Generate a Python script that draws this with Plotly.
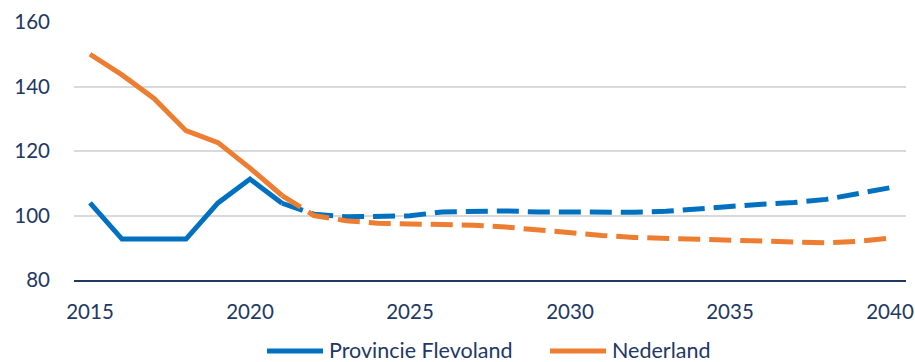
import plotly.graph_objects as go

years_hist = [2015, 2016, 2017, 2018, 2019, 2020, 2021]
flevoland_hist = [103.9, 92.7, 92.7, 92.7, 103.9, 111.3, 103.8]
nederland_hist = [150.0, 143.6, 136.3, 126.3, 122.6, 114.7, 106.2]

years_proj = [2021, 2022, 2023, 2024, 2025, 2026, 2027, 2028, 2029, 2030,
              2031, 2032, 2033, 2034, 2035, 2036, 2037, 2038, 2039, 2040]
flevoland_proj = [103.8, 100.4, 99.6, 99.6, 99.9, 101.1, 101.4, 101.4, 101.1, 101.0,
                  100.9, 101.0, 101.3, 101.9, 102.8, 103.5, 104.0, 105.0, 106.7, 108.6]
nederland_proj = [106.2, 100.0, 98.4, 97.6, 97.4, 97.2, 97.0, 96.4, 95.5, 94.7,
                  93.8, 93.2, 92.9, 92.6, 92.3, 92.1, 91.6, 91.5, 92.0, 93.0]

series_names = ["Provincie Flevoland", "Nederland"]
x_ticks = [2015, 2020, 2025, 2030, 2035, 2040]
y_ticks = [80, 100, 120, 140, 160]

BLUE = "#0070C0"
ORANGE = "#ED7D31"
NAVY = "#1F3864"
FONT = "Lato"

# plot area in pixels
L, R, T, B = 74, 9, 22, 82
W, H = 915, 362
PW, PH = W - L - R, H - T - B


def px_x(px):
    return (px - L) / PW


def px_y(py):
    return (H - B - py) / PH


fig = go.Figure()
fig.add_trace(go.Scatter(x=years_hist, y=flevoland_hist, mode="lines",
                         name=series_names[0], showlegend=False,
                         line=dict(color=BLUE, width=5)))
fig.add_trace(go.Scatter(x=years_hist, y=nederland_hist, mode="lines",
                         name=series_names[1], showlegend=False,
                         line=dict(color=ORANGE, width=5)))
fig.add_trace(go.Scatter(x=years_proj, y=flevoland_proj, mode="lines",
                         showlegend=False,
                         line=dict(color=BLUE, width=5, dash="22px,9px")))
fig.add_trace(go.Scatter(x=years_proj, y=nederland_proj, mode="lines",
                         showlegend=False,
                         line=dict(color=ORANGE, width=5, dash="22px,9px")))

# manual legend (line samples + labels)
LEG_Y = 350
legend_items = [(267, 323, 327, BLUE, series_names[0]),
                (550, 606, 610, ORANGE, series_names[1])]
shapes = []
annotations = []
for x0, x1, tx, col, label in legend_items:
    shapes.append(dict(type="line", xref="paper", yref="paper",
                       x0=px_x(x0), x1=px_x(x1), y0=px_y(LEG_Y + 1), y1=px_y(LEG_Y + 1),
                       line=dict(color=col, width=5)))
    annotations.append(dict(xref="paper", yref="paper", x=px_x(tx), y=px_y(LEG_Y),
                            xanchor="left", yanchor="middle", showarrow=False,
                            text=label, font=dict(size=21.5, color=NAVY, family=FONT)))

fig.update_layout(
    width=W, height=H,
    margin=dict(l=L, r=R, t=T, b=B, autoexpand=False),
    paper_bgcolor="white", plot_bgcolor="white",
    font=dict(family=FONT, size=20.5, color=NAVY),
    showlegend=False,
    shapes=shapes,
    annotations=annotations,
    xaxis=dict(range=[2014.5, 2040.5], tickvals=x_ticks,
               showgrid=False, zeroline=False,
               showline=True, linecolor=NAVY, linewidth=2,
               ticks="", ticklabelstandoff=12),
    yaxis=dict(range=[80, 160], tickvals=y_ticks,
               showgrid=True, gridcolor="#D9D9D9", gridwidth=1.5,
               zeroline=False, showline=False, ticks="",
               ticklabelstandoff=23),
)

fig.write_html("out.html",
               config={"displayModeBar": False},
               post_script="document.body.style.margin='0';document.body.style.overflow='hidden';")
